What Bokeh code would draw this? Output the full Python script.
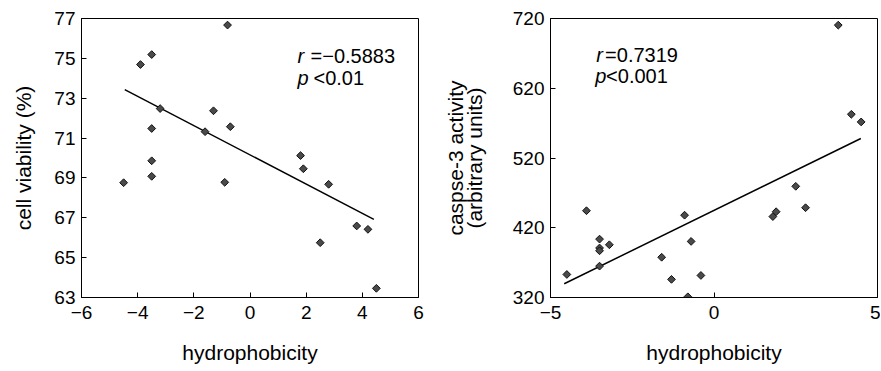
from bokeh.plotting import figure
from bokeh.layouts import row
from bokeh.models import Range1d, FixedTicker
from bokeh.core.properties import value
from bokeh.embed import file_html
from bokeh.resources import INLINE

# ---- data ----
left_x = [-4.5, -3.9, -3.5, -3.5, -3.5, -3.5, -3.2, -1.6, -1.3, -0.9, -0.8, -0.7,
          1.8, 1.9, 2.5, 2.8, 3.8, 4.2, 4.5]
left_y = [68.76, 74.69, 75.19, 71.48, 69.86, 69.08, 72.48, 71.32, 72.37, 68.78, 76.67, 71.57,
          70.12, 69.46, 65.75, 68.68, 66.59, 66.42, 63.46]
left_fit_x = [-4.46, 4.41]
left_fit_y = [73.43, 66.92]

right_x = [-4.5, -3.9, -3.5, -3.5, -3.5, -3.5, -3.2, -1.6, -1.3, -0.9, -0.8, -0.7, -0.4,
           1.8, 1.9, 2.5, 2.8, 3.8, 4.2, 4.5]
right_y = [353.0, 444.4, 403.7, 391.0, 387.0, 365.0, 395.6, 377.7, 346.0, 438.0, 321.0, 400.4, 351.6,
           436.0, 443.0, 479.4, 448.7, 710.5, 582.7, 571.7]
right_fit_x = [-4.58, 4.49]
right_fit_y = [339.7, 548.0]

left_xticks = [-6, -4, -2, 0, 2, 4, 6]
left_yticks = [63, 65, 67, 69, 71, 73, 75, 77]
right_xticks = [-5, 0, 5]
right_yticks = [320, 420, 520, 620, 720]

left_stats = ["r", "=\u22120.5883", "p", "<0.01"]
right_stats = ["r", "=0.7319", "p", "<0.001"]

FONT = "Liberation Sans"


def label_of(t):
    return str(t).replace("-", "\u2212")


def style(p, xticks, yticks, xlabel, ylabel):
    p.xgrid.visible = False
    p.ygrid.visible = False
    p.outline_line_color = "black"
    p.outline_line_width = 1
    p.background_fill_color = "white"
    p.border_fill_color = "white"
    for ax, ticks in ((p.xaxis[0], xticks), (p.yaxis[0], yticks)):
        ax.ticker = FixedTicker(ticks=ticks, minor_ticks=[])
        ax.major_label_overrides = {t: label_of(t) for t in ticks}
        ax.major_tick_in = 5
        ax.major_tick_out = 0
        ax.minor_tick_in = 0
        ax.minor_tick_out = 0
        ax.axis_line_color = "black"
        ax.major_tick_line_color = "black"
        ax.major_label_text_font = FONT
        ax.major_label_text_font_size = "19px"
        ax.major_label_text_color = "black"
        ax.axis_label_text_font = FONT
        ax.axis_label_text_font_size = "21px"
        ax.axis_label_text_font_style = "normal"
        ax.axis_label_text_color = "black"
    p.xaxis[0].axis_label = xlabel
    p.yaxis[0].axis_label = ylabel
    p.xaxis[0].major_label_standoff = 8
    p.yaxis[0].major_label_standoff = 6
    p.xaxis[0].axis_label_standoff = 19
    p.yaxis[0].axis_label_standoff = 16


# ---- left panel ----
p1 = figure(width=440, height=371, output_backend="svg", toolbar_location=None,
            x_range=Range1d(-6, 6), y_range=Range1d(63, 77),
            min_border_left=81, min_border_right=22, min_border_top=16, min_border_bottom=74)
style(p1, left_xticks, left_yticks, "hydrophobicity", "cell viability (%)")
p1.line(left_fit_x, left_fit_y, line_color="black", line_width=1.5)
p1.scatter(left_x, left_y, marker="square", angle=0.785398, size=5.5,
           fill_color="#4a4a4a", line_color="#111111", line_width=1)
p1.text(x=[1.69, 1.69], y=[75.11, 74.01], text=[left_stats[0], left_stats[2]],
        text_font=value(FONT), text_font_size="20px", text_font_style="italic",
        text_baseline="alphabetic", text_align="left", text_color="black")
p1.text(x=[2.155, 2.26], y=[75.11, 74.01], text=[left_stats[1], left_stats[3]],
        text_font=value(FONT), text_font_size="20px",
        text_baseline="alphabetic", text_align="left", text_color="black")

# ---- right panel ----
p2 = figure(width=440, height=371, output_backend="svg", toolbar_location=None,
            x_range=Range1d(-5, 5), y_range=Range1d(320, 720),
            min_border_left=100, min_border_right=3, min_border_top=18, min_border_bottom=72)
style(p2, right_xticks, right_yticks, "hydrophobicity", "caspse-3 activity\n(arbitrary units)")
p2.yaxis[0].axis_label_standoff = 24
p2.yaxis[0].axis_label_text_line_height = 0.82
p2.line(right_fit_x, right_fit_y, line_color="black", line_width=1.5)
p2.scatter(right_x, right_y, marker="square", angle=0.785398, size=5.5,
           fill_color="#4a4a4a", line_color="#111111", line_width=1)
p2.text(x=[-3.60, -3.63], y=[667.9, 637.0], text=[right_stats[0], right_stats[2]],
        text_font=value(FONT), text_font_size="20px", text_font_style="italic",
        text_baseline="alphabetic", text_align="left", text_color="black")
p2.text(x=[-3.33, -3.30], y=[667.9, 637.0], text=[right_stats[1], right_stats[3]],
        text_font=value(FONT), text_font_size="20px",
        text_baseline="alphabetic", text_align="left", text_color="black")

layout = row(p1, p2, spacing=0)
open("out.html", "w").write(file_html(layout, INLINE))
